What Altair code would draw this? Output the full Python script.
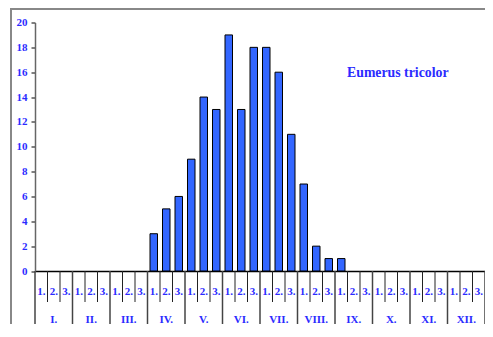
import altair as alt
import pandas as pd

months = ["I.", "II.", "III.", "IV.", "V.", "VI.", "VII.", "VIII.", "IX.", "X.", "XI.", "XII."]
decades = ["1.", "2.", "3."]
counts = [0, 0, 0, 0, 0, 0, 0, 0, 0,
          3, 5, 6, 9, 14, 13, 19, 13, 18, 18, 16, 11, 7, 2, 1, 1,
          0, 0, 0, 0, 0, 0, 0, 0, 0, 0, 0]
title_text = "Eumerus tricolor"

BLUE = "#2b2bff"
FONT = "Liberation Serif"
H = 248.5
W = 450

slots = pd.DataFrame({
    "i": list(range(36)),
    "start": [i + 0.2 for i in range(36)],
    "end": [i + 0.8 for i in range(36)],
    "mid": [i + 0.5 for i in range(36)],
    "decade": [decades[i % 3] for i in range(36)],
    "count": counts,
    "base": [0] * 36,
})
seps = pd.DataFrame({"k": list(range(37)), "major": [k % 3 == 0 for k in range(37)]})
mon = pd.DataFrame({"month": months, "mid": [3 * m + 1.5 for m in range(12)]})

xs = alt.Scale(domain=[0, 36], nice=False, zero=False, padding=0)
ys = alt.Scale(domain=[0, 20], nice=False, padding=0)

bars = alt.Chart(slots).transform_filter("datum.count > 0").mark_bar(
    color="#3366ff", stroke="black", strokeWidth=1
).encode(
    x=alt.X("start:Q", scale=xs,
            axis=alt.Axis(labels=False, ticks=False, title=None, grid=False, domainColor="black", domainWidth=1.5)),
    x2="end:Q",
    y=alt.Y("count:Q", scale=ys,
            axis=alt.Axis(values=list(range(0, 21, 2)), title=None, grid=False,
                          domainColor="#666", domainWidth=1.5, tickColor="black", tickSize=4,
                          labelFont=FONT, labelFontWeight="bold", labelFontSize=11,
                          labelColor=BLUE, labelPadding=4)),
    y2="base:Q",
)

minor_sep = alt.Chart(seps).transform_filter("!datum.major").mark_rule(color="#222", strokeWidth=1).encode(
    x=alt.X("k:Q", scale=xs), y=alt.value(H), y2=alt.value(H + 31)
)
major_sep = alt.Chart(seps).transform_filter("datum.major").mark_rule(color="#444", strokeWidth=1.5).encode(
    x=alt.X("k:Q", scale=xs), y=alt.value(H), y2=alt.value(H + 62)
)
dec_text = alt.Chart(slots).mark_text(
    font=FONT, fontWeight="bold", fontSize=11, color=BLUE, baseline="middle"
).encode(x=alt.X("mid:Q", scale=xs), y=alt.value(H + 21), text="decade:N")
mon_text = alt.Chart(mon).mark_text(
    font=FONT, fontWeight="bold", fontSize=11, color=BLUE, baseline="middle"
).encode(x=alt.X("mid:Q", scale=xs), y=alt.value(H + 48.5), text="month:N")

title = alt.Chart(pd.DataFrame({"t": [title_text]})).mark_text(
    font=FONT, fontWeight="bold", fontSize=13.8, color=BLUE, align="left", baseline="middle"
).encode(x=alt.value(312), y=alt.value(50.5), text="t:N")

frame_left = alt.Chart(pd.DataFrame({"a": [0]})).mark_rule(color="#888", strokeWidth=2).encode(
    x=alt.value(-24), y=alt.value(-13.5), y2=alt.value(320)
)
frame_top = alt.Chart(pd.DataFrame({"a": [0]})).mark_rule(color="#888", strokeWidth=2).encode(
    x=alt.value(-25), x2=alt.value(W + 5), y=alt.value(-13.5)
)

chart = alt.layer(
    frame_left, frame_top, minor_sep, major_sep, bars, dec_text, mon_text, title
).properties(
    width=W, height=H,
    autosize=alt.AutoSizeParams(type="none"),
    padding={"left": 27, "top": 14.5, "right": 0, "bottom": 53},
).configure_view(stroke=None)

chart.save("out.html", embed_options={"renderer": "svg", "actions": False})
